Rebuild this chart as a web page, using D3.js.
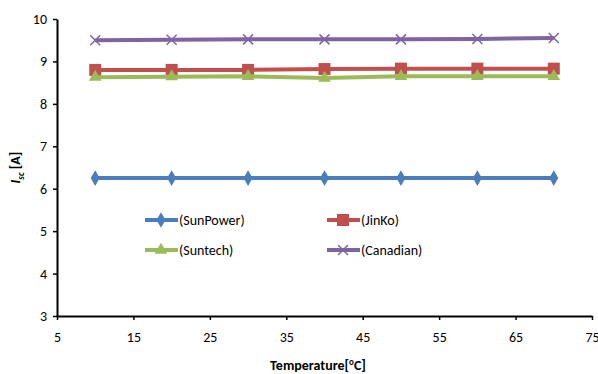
<!DOCTYPE html>
<html>
<head>
<meta charset="utf-8">
<script src="https://cdn.jsdelivr.net/npm/d3@7"></script>
<style>
  body { margin: 0; background: #fff; }
  text { font-family: Carlito, "Liberation Sans Narrow", "Liberation Sans", sans-serif; fill: #000; }
</style>
</head>
<body>
<svg id="chart" width="598" height="374"></svg>
<script>
const temps = [10, 20, 30, 40, 50, 60, 70]
const sunpower = [6.25, 6.25, 6.25, 6.25, 6.25, 6.25, 6.25]
const jinko = [8.8, 8.8, 8.8, 8.82, 8.83, 8.83, 8.83]
const suntech = [8.63, 8.64, 8.65, 8.61, 8.65, 8.65, 8.65]
const canadian = [9.5, 9.51, 9.52, 9.52, 9.52, 9.53, 9.55]
const xTicks = [5, 15, 25, 35, 45, 55, 65, 75]
const yTicks = [3, 4, 5, 6, 7, 8, 9, 10]

const series = [
  { name: '(SunPower)', values: sunpower, color: '#4a7ebb', sym: 'diamond' },
  { name: '(JinKo)', values: jinko, color: '#c0504d', sym: 'square' },
  { name: '(Suntech)', values: suntech, color: '#9bbb59', sym: 'triangle' },
  { name: '(Canadian)', values: canadian, color: '#8064a2', sym: 'x' },
]

const margin = { top: 19, right: 6, bottom: 58, left: 57 }
const width = 598 - margin.left - margin.right
const height = 374 - margin.top - margin.bottom

const svg = d3.select('#chart')
const g = svg.append('g').attr('transform', `translate(${margin.left},${margin.top})`)

const x = d3.scaleLinear().domain([5, 75]).range([0, width])
const y = d3.scaleLinear().domain([3, 10]).range([height, 0])

const xAxis = g.append('g')
  .attr('transform', `translate(0,${height})`)
  .call(d3.axisBottom(x).tickValues(xTicks).tickSize(4).tickSizeOuter(0).tickPadding(12))
const yAxis = g.append('g')
  .call(d3.axisLeft(y).tickValues(yTicks).tickFormat(d3.format('d')).tickSize(4).tickSizeOuter(0).tickPadding(6))

for (const ax of [xAxis, yAxis]) {
  ax.select('.domain').attr('stroke', '#000').attr('stroke-width', 2)
  ax.selectAll('.tick line').attr('stroke', '#000').attr('stroke-width', 1.5)
  ax.selectAll('.tick text').style('font-size', '14px')
}

function marker(sel, sym, color) {
  if (sym === 'diamond') {
    sel.append('path').attr('d', d3.symbol(d3.symbolDiamond, 70)()).attr('fill', color)
  } else if (sym === 'square') {
    sel.append('rect').attr('x', -6).attr('y', -6).attr('width', 12).attr('height', 12).attr('fill', color)
  } else if (sym === 'triangle') {
    sel.append('path').attr('d', d3.symbol(d3.symbolTriangle, 70)()).attr('fill', color)
  } else {
    sel.append('path').attr('d', 'M-5,-5L5,5M-5,5L5,-5').attr('stroke', color).attr('stroke-width', 1.5)
  }
}

const line = d3.line().x((d, i) => x(temps[i])).y(d => y(d))

for (const s of series) {
  g.append('path').datum(s.values)
    .attr('d', line)
    .attr('fill', 'none')
    .attr('stroke', s.color)
    .attr('stroke-width', 4)
  s.values.forEach((v, i) => {
    const m = g.append('g').attr('transform', `translate(${x(temps[i])},${y(v)})`)
    marker(m, s.sym, s.color)
  })
}

// legend
const legendPos = [[145, 220], [327, 220], [145, 250], [327, 250]]
series.forEach((s, i) => {
  const [lx, ly] = legendPos[i]
  const lg = svg.append('g').attr('transform', `translate(${lx},${ly})`)
  lg.append('line').attr('x1', 0).attr('x2', 33).attr('stroke', s.color).attr('stroke-width', 4)
  const m = lg.append('g').attr('transform', 'translate(16,0)')
  marker(m, s.sym, s.color)
  lg.append('text').attr('x', 34).attr('dy', '0.35em').style('font-size', '14px').text(s.name)
})

// axis titles
svg.append('text')
  .attr('x', 318).attr('y', 370)
  .attr('text-anchor', 'middle')
  .style('font-size', '14px').style('font-weight', 'bold')
  .html('Temperature[<tspan dy="-5" font-size="9px">o</tspan><tspan dy="5">C]</tspan>')

svg.append('text')
  .attr('transform', `translate(20,${margin.top + height / 2}) rotate(-90)`)
  .attr('text-anchor', 'middle')
  .style('font-size', '14px').style('font-weight', 'bold')
  .html('<tspan font-style="italic">I</tspan><tspan dy="4" font-size="9px" font-style="italic">sc</tspan><tspan dy="-4"> [A]</tspan>')
</script>
</body>
</html>
